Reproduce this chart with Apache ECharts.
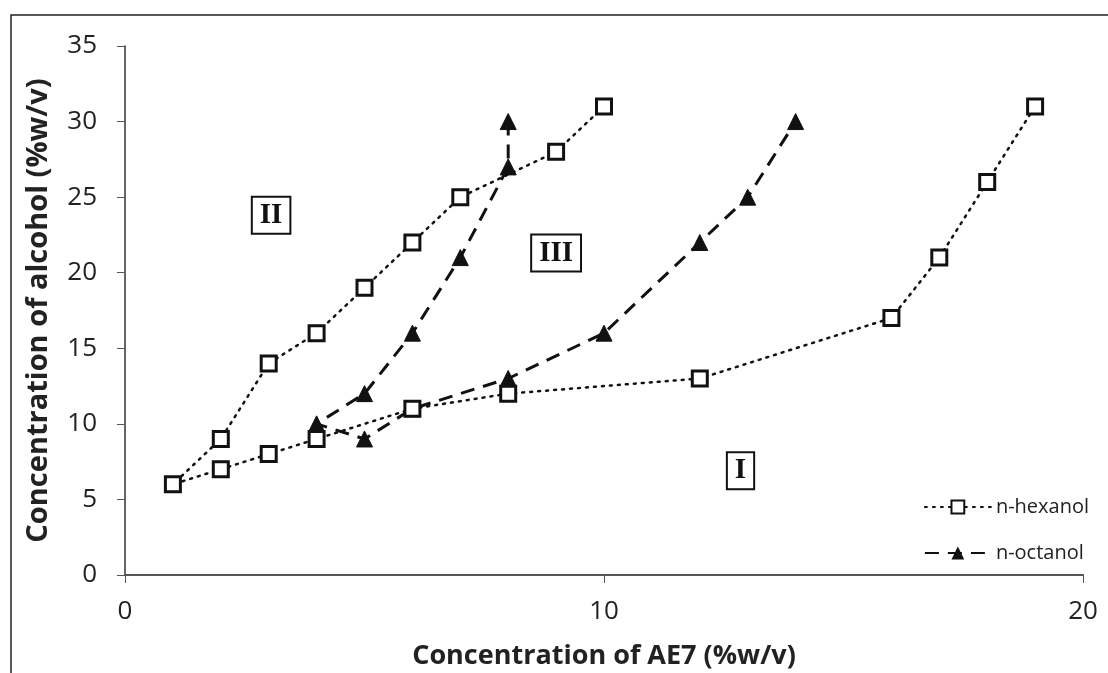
<!DOCTYPE html>
<html>
<head>
<meta charset="utf-8">
<script src="https://cdn.jsdelivr.net/npm/echarts@6/dist/echarts.min.js"></script>
<style>
  html, body { margin: 0; padding: 0; background: #fff; }
  #chart { width: 1108px; height: 673px; }
</style>
</head>
<body>
<div id="chart"></div>
<script>
// n-hexanol phase boundary (x = AE7 %w/v, y = alcohol %w/v)
const hexanolX = [10, 9, 7, 6, 5, 4, 3, 2, 1, 2, 3, 4, 6, 8, 12, 16, 17, 18, 19]
const hexanolY = [31, 28, 25, 22, 19, 16, 14, 9, 6, 7, 8, 9, 11, 12, 13, 17, 21, 26, 31]

// n-octanol phase boundary
const octanolX = [8, 8, 7, 6, 5, 4, 5, 6, 8, 10, 12, 13, 14]
const octanolY = [30, 27, 21, 16, 12, 10, 9, 11, 13, 16, 22, 25, 30]

// region labels
const regionNames = ['II', 'III', 'I']
const regionX = [3.05, 9, 12.85]
const regionY = [23.8, 21.3, 6.9]

const pairs = (xs, ys) => xs.map((x, i) => [x, ys[i]])

const chart = echarts.init(document.getElementById('chart'))

const font = '"Open Sans", "Liberation Sans", sans-serif'

chart.setOption({
  animation: false,
  backgroundColor: '#fff',
  grid: { left: 125, right: 25, top: 46, bottom: 98, outerBoundsMode: 'none', containLabel: false },
  graphic: [{
    type: 'rect',
    shape: { x: 11, y: 15, width: 1200, height: 800 },
    style: { fill: 'none', stroke: '#222', lineWidth: 1.5 },
    silent: true
  }],
  legend: {
    orient: 'vertical',
    right: 14,
    top: 492,
    itemWidth: 66,
    itemHeight: 16,
    itemGap: 26,
    textStyle: { fontFamily: font, fontSize: 20, color: '#222' },
    data: ['n-hexanol', 'n-octanol']
  },
  xAxis: {
    type: 'value',
    min: 0,
    max: 20,
    interval: 10,
    name: 'Concentration of AE7 (%w/v)',
    nameLocation: 'middle',
    nameGap: 68,
    nameTextStyle: { fontFamily: font, fontSize: 27, fontWeight: 'bold', color: '#222' },
    axisLine: { onZero: false, lineStyle: { color: '#555', width: 2 } },
    axisTick: { show: true, length: 8, lineStyle: { color: '#555' } },
    axisLabel: { fontFamily: font, fontSize: 26, color: '#222', margin: 24 },
    splitLine: { show: false }
  },
  yAxis: {
    type: 'value',
    min: 0,
    max: 35,
    interval: 5,
    name: 'Concentration of alcohol (%w/v)',
    nameLocation: 'middle',
    nameGap: 72,
    nameTextStyle: { fontFamily: font, fontSize: 29, fontWeight: 'bold', color: '#222' },
    axisLine: { show: true, lineStyle: { color: '#333', width: 1.5 } },
    axisTick: { show: true, length: 8, lineStyle: { color: '#555' } },
    axisLabel: { fontFamily: font, fontSize: 26, color: '#222', margin: 28 },
    splitLine: { show: false }
  },
  series: [
    {
      name: 'n-hexanol',
      type: 'line',
      data: pairs(hexanolX, hexanolY),
      symbol: 'rect',
      symbolSize: 15,
      lineStyle: { color: '#111', width: 2.5, type: [2, 6], cap: 'round' },
      itemStyle: { color: '#fff', borderColor: '#111', borderWidth: 3 },
      z: 3,
      markPoint: {
        symbol: 'rect',
        symbolSize: 1,
        itemStyle: { color: 'rgba(0,0,0,0)' },
        label: {
          show: true,
          position: 'inside',
          fontFamily: '"Liberation Serif", "DejaVu Serif", serif',
          fontSize: 29,
          fontWeight: 'bold',
          color: '#111',
          borderColor: '#111',
          borderWidth: 2,
          padding: [4, 7, 2, 7],
          backgroundColor: '#fff',
          formatter: p => p.name
        },
        data: regionNames.map((n, i) => ({ name: n, coord: [regionX[i], regionY[i]] }))
      }
    },
    {
      name: 'n-octanol',
      type: 'line',
      data: pairs(octanolX, octanolY),
      symbol: 'triangle',
      symbolSize: 16,
      lineStyle: { color: '#111', width: 3, type: [14, 9] },
      itemStyle: { color: '#111', borderColor: '#111' },
      z: 2
    }
  ]
})
</script>
</body>
</html>
